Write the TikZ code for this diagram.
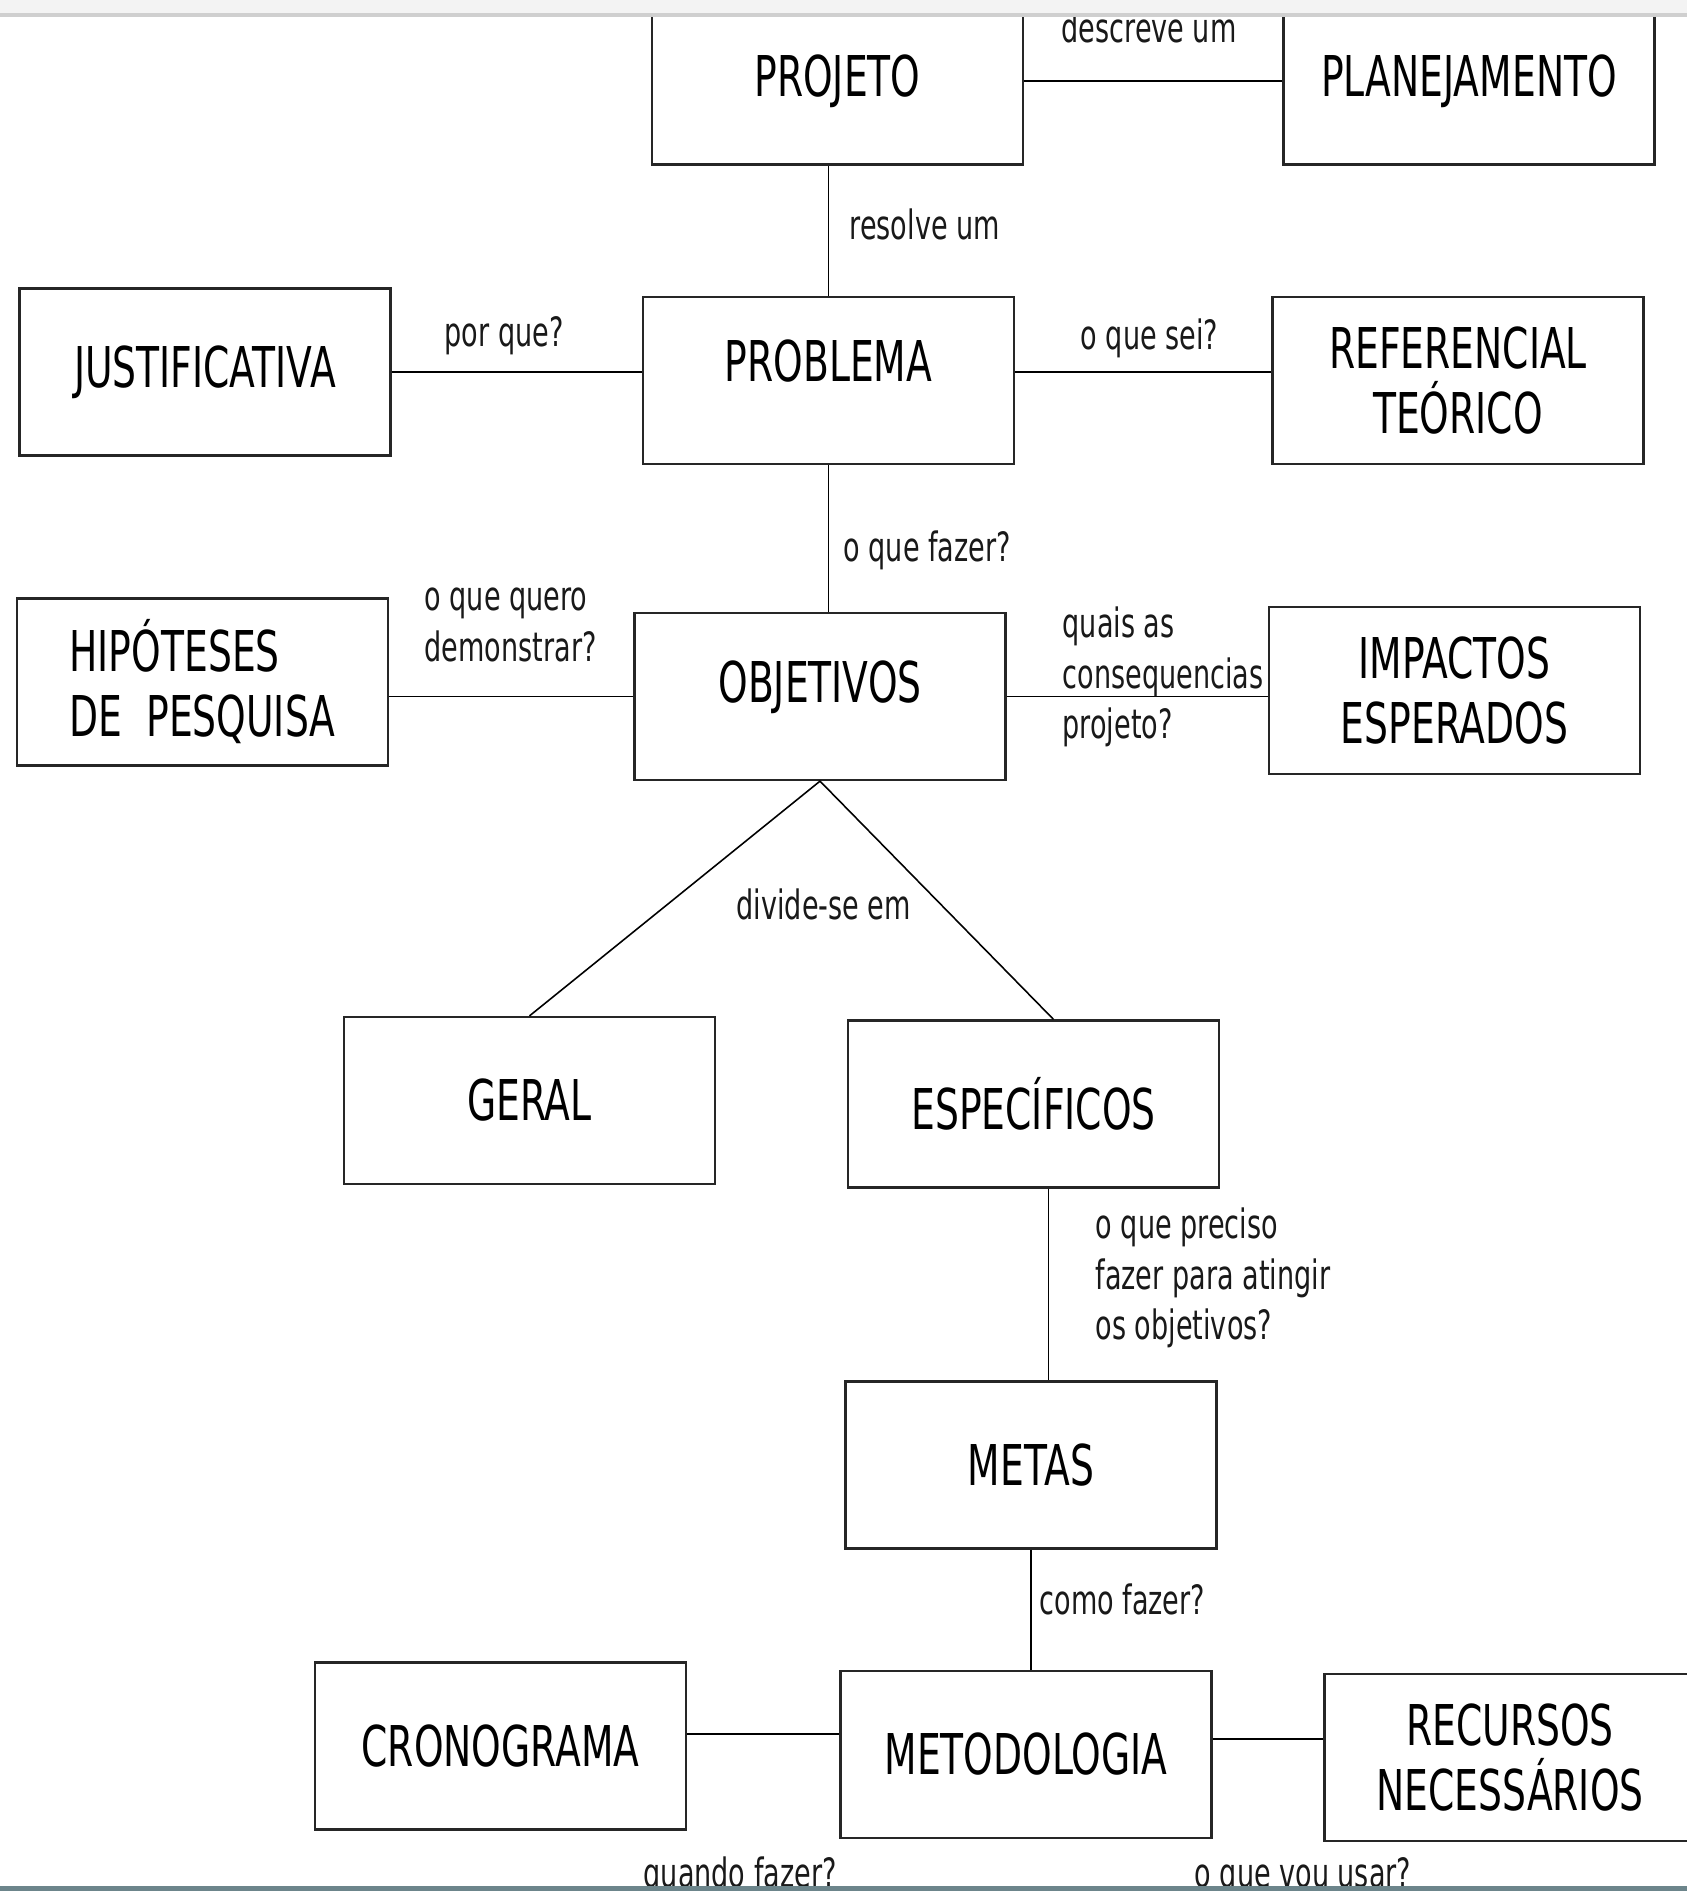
\documentclass[tikz,border=0pt]{standalone}
\usepackage{fontspec}
\setmainfont{DejaVu Sans}[FakeStretch=0.67]
\usepackage{xcolor}
\usepackage{tikz}
\usetikzlibrary{positioning}
\definecolor{barcinza}{HTML}{F3F3F3}
\definecolor{barlinha}{HTML}{CFCFCF}
\definecolor{tarefa}{HTML}{6C858B}

\begin{document}
\begin{tikzpicture}[
	x=0.02cm, y=-0.02cm,
	line width=0.9pt
]
\tikzset{
    caixa/.style = {rectangle, draw=black!85, line width=1.3pt, align=center, minimum width=7.42cm, minimum height=3.34cm, font=\fontsize{32}{37}\selectfont},
    rotulo/.style = {align=left, anchor=base west, text=black!90, font=\fontsize{23}{28.7}\selectfont},
    rotulos/.style = {rotulo, anchor=west}
}
\useasboundingbox (0,0) rectangle (1687,1891);
\clip (0,0) rectangle (1687,1891);

\node[caixa] (projeto) at (837.5,81) {PROJETO};
\node[caixa] (planej) at (1469,81) {PLANEJAMENTO};
\node[caixa,text depth=0.8cm] (prob) at (828.5,380.5) {PROBLEMA};
\node[caixa] (just) at (205,372) {JUSTIFICATIVA};
\node[caixa] (ref) at (1458,380.5) {REFERENCIAL\\TEÓRICO};
\node[caixa,text depth=0.6cm] (obj) at (820,696.5) {OBJETIVOS};
\node[caixa,align=left] (hip) at (202.5,682) {HIPÓTESES\\DE\ \ PESQUISA};
\node[caixa] (imp) at (1454.5,690.5) {IMPACTOS\\ESPERADOS};
\node[caixa] (geral) at (529.5,1100.5) {GERAL};
\node[caixa] (esp) at (1033.5,1104) {ESPECÍFICOS};
\node[caixa] (metas) at (1031,1465) {METAS};
\node[caixa] (metod) at (1026,1754.5) {METODOLOGIA};
\node[caixa] (crono) at (500.5,1746) {CRONOGRAMA};
\node[caixa] (recur) at (1510,1757.5) {RECURSOS\\NECESSÁRIOS};

\draw (projeto.east) -- (planej.west);
\draw (prob.north) -- (prob.north |- projeto.south);
\draw (just.east) -- (just.east -| prob.west);
\draw (prob.east |- just.east) -- (ref.west |- just.east);
\draw (prob.south) -- (prob.south |- obj.north);
\draw (obj.west) -- (obj.west -| hip.east);
\draw (obj.east) -- (obj.east -| imp.west);
\draw (geral.north) -- (obj.south) -- ([xshift=0.4cm]esp.north);
\draw ([xshift=0.3cm]esp.south) coordinate (espbaixo) -- (espbaixo |- metas.north);
\draw (metas.south) -- (metas.south |- metod.north);
\draw ([yshift=0.24cm]crono.east) coordinate (cronolado) -- (cronolado -| metod.west);
\draw ([yshift=0.31cm]metod.east) coordinate (metodlado) -- (metodlado -| recur.west);

\node[rotulo] (l1) at (1055,42) {descreve um};
\node[rotulo] (l2) at (843,239) {resolve um};
\node[rotulo] (l3) at (438,346) {por que?};
\node[rotulo] (l4) at (1074,349) {o que sei?};
\node[rotulo] (l5) at (837,561) {o que fazer?};
\node[rotulos] (l6) at (418,625) {o que quero\\demonstrar?};
\node[rotulos] (l7) at (1056,677) {quais as\\consequencias\\projeto?};
\node[rotulo] (l8) at (730,919) {divide-se em};
\node[rotulos] (l9) at (1089,1278) {o que preciso\\fazer para atingir\\os objetivos?};
\node[rotulo] (l10) at (1033,1614) {como fazer?};
\node[rotulo] (l11) at (637,1887) {quando fazer?};
\node[rotulo] (l12) at (1188,1887) {o que vou usar?};

\fill[barcinza] (0,0) rectangle (1687,13);
\fill[barlinha] (0,13) rectangle (1687,17);
\fill[tarefa] (0,1886) rectangle (1687,1891);
\end{tikzpicture}
\end{document}
